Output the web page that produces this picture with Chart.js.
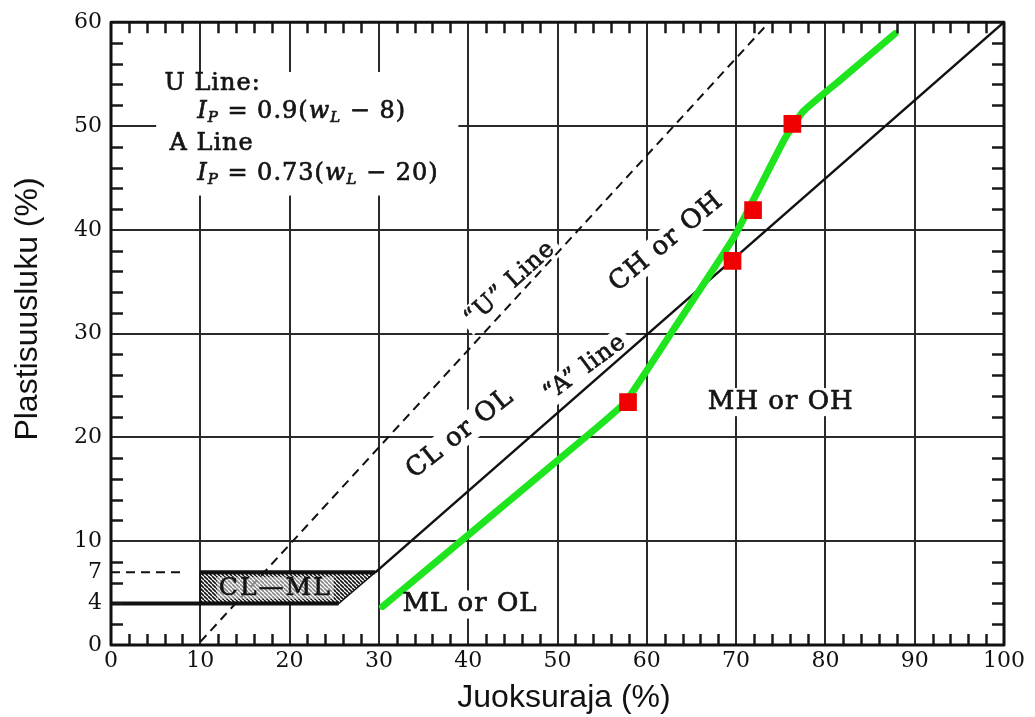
<!DOCTYPE html>
<html>
<head>
<meta charset="utf-8">
<title>Plastisuuskaavio</title>
<script src="https://cdn.jsdelivr.net/npm/chart.js@4.4.1/dist/chart.umd.min.js"></script>
<style>
  html, body { margin: 0; padding: 0; background: #ffffff; }
  #wrap { width: 1035px; height: 717px; }
</style>
</head>
<body>
<div id="wrap"><canvas id="c" width="1035" height="717"></canvas></div>
<script>
// Tested samples: liquid limit (%) and plasticity index (%)
const sampleLL = [57.9, 69.6, 71.9, 76.3];
const samplePI = [23.4, 37.0, 41.9, 50.2];

// Trend line drawn through the samples
const trendLL = [30.4, 53.1, 57.6, 63.0, 69.7, 75.4, 77.5, 81.9, 87.8];
const trendPI = [3.7, 20.0, 23.4, 30.4, 39.2, 48.7, 51.4, 54.6, 58.9];

// Casagrande chart boundaries
const uLineLL = [10, 73.7];
const uLinePI = [0.3, 60];
const aLineLL = [29.6, 100];
const aLinePI = [7, 60];
const clmlLL = [10, 10, 29.6, 25.5, 10];
const clmlPI = [4, 7, 7, 4, 4];
const lowLineLL = [0, 25.5];
const lowLinePI = [4, 4];
const highLineLL = [10, 29.6];
const highLinePI = [7, 7];
const dashLL = [0, 8.2];
const dashPI = [7, 7];

// Axis tick labels
const xTickLabels = [0, 10, 20, 30, 40, 50, 60, 70, 80, 90, 100];
const yTickLabels = [0, 4, 7, 10, 20, 30, 40, 50, 60];

// Zone names and the equation block
const zoneNames = ['“U” Line', '“A” line', 'CL or OL', 'CH or OH', 'MH or OH', 'ML or OL'];
const clmlName = 'CL—ML';
const eqLines = [
  [['U Line:', '']],
  [['I', 'i'], ['P', 'is'], [' = 0.9(', ''], ['w', 'i'], ['L', 'is'], [' − 8)', '']],
  [['A Line', '']],
  [['I', 'i'], ['P', 'is'], [' = 0.73(', ''], ['w', 'i'], ['L', 'is'], [' − 20)', '']]
];

// ---- placement of annotations (data units) ----
const zonePlace = [
  { x: 44.7, y: 34.8, rot: -42.4, size: 24 },
  { x: 53.1, y: 26.7, rot: -36.5, size: 24 },
  { x: 39.1, y: 20.35, rot: -38.3, size: 26 },
  { x: 62.2, y: 38.8, rot: -39.8, size: 26 },
  { x: 75.0, y: 23.4, rot: 0, size: 26 },
  { x: 40.2, y: 3.9, rot: 0, size: 26 }
];
const clmlPlace = { x: 18.4, y: 5.5, size: 25 };
const eqPlace = [
  { x: 6.0, y: 54.1 },
  { x: 9.65, y: 51.4 },
  { x: 6.55, y: 48.3 },
  { x: 9.65, y: 45.4 }
];
const eqBox = { x0: 5.06, x1: 38.9, y0: 43.3, y1: 55.2 };

const SERIF = '"DejaVu Serif", "Liberation Serif", serif';
const SANS = '"Liberation Sans", Arial, sans-serif';
const INK = '#151515';

const pts = (xs, ys) => xs.map((v, i) => ({ x: v, y: ys[i] }));

// Diagonal hatching for the CL-ML band
const hatchPattern = (() => {
  const c = document.createElement('canvas');
  c.width = 4; c.height = 4;
  const g = c.getContext('2d');
  g.fillStyle = '#ffffff';
  g.fillRect(0, 0, 4, 4);
  g.strokeStyle = '#111111';
  g.lineWidth = 1.6;
  g.beginPath();
  for (let k = -4; k <= 8; k += 4) { g.moveTo(k, 0); g.lineTo(k + 4, 4); }
  g.stroke();
  return g.createPattern(c, 'repeat');
})();

// filled text with a thin outline so it reads as heavy as printed type
function inkText(ctx, t, x, y) {
  ctx.fillText(t, x, y);
  ctx.strokeText(t, x, y);
}

function drawRich(ctx, x0, yMid, parts, size) {
  let xx = x0;
  parts.forEach(([t, style]) => {
    const sub = style.includes('s');
    const it = style.includes('i');
    const fs = sub ? Math.round(size * 0.62) : size;
    ctx.font = (it ? 'italic ' : '') + fs + 'px ' + SERIF;
    inkText(ctx, t, xx, yMid + (sub ? size * 0.28 : 0));
    xx += ctx.measureText(t).width;
  });
}

const chartDecor = {
  id: 'chartDecor',
  beforeDatasetsDraw(chart) {
    const { ctx, scales: { x, y } } = chart;
    ctx.save();
    ctx.fillStyle = '#ffffff';
    // white panel behind the equations
    const l = x.getPixelForValue(eqBox.x0), r = x.getPixelForValue(eqBox.x1);
    const t = y.getPixelForValue(eqBox.y1), b = y.getPixelForValue(eqBox.y0);
    ctx.fillRect(l, t, r - l, b - t);
    // white patches behind the zone names
    zoneNames.forEach((name, i) => {
      const p = zonePlace[i];
      ctx.font = p.size + 'px ' + SERIF;
      ctx.letterSpacing = '1px';
      const w = ctx.measureText(name).width;
      const h = p.size * 0.85;
      ctx.save();
      ctx.translate(x.getPixelForValue(p.x), y.getPixelForValue(p.y));
      ctx.rotate(p.rot * Math.PI / 180);
      ctx.fillRect(-w / 2 - 5, -h / 2 - 3, w + 10, h + 6);
      ctx.restore();
    });
    ctx.restore();
  },
  afterDatasetsDraw(chart) {
    const { ctx, chartArea: a, scales: { x, y } } = chart;
    ctx.save();
    ctx.fillStyle = INK;
    ctx.strokeStyle = INK;
    ctx.lineWidth = 0.7;
    ctx.lineJoin = 'round';
    ctx.textBaseline = 'middle';
    ctx.letterSpacing = '1px';

    // zone names
    ctx.textAlign = 'center';
    zoneNames.forEach((name, i) => {
      const p = zonePlace[i];
      ctx.font = p.size + 'px ' + SERIF;
      ctx.save();
      ctx.translate(x.getPixelForValue(p.x), y.getPixelForValue(p.y));
      ctx.rotate(p.rot * Math.PI / 180);
      inkText(ctx, name, 0, 0);
      ctx.restore();
    });

    // CL-ML label over the hatching
    ctx.font = clmlPlace.size + 'px ' + SERIF;
    ctx.letterSpacing = '2px';
    const cx = x.getPixelForValue(clmlPlace.x), cy = y.getPixelForValue(clmlPlace.y);
    const cw = ctx.measureText(clmlName).width;
    ctx.fillStyle = 'rgba(255,255,255,0.5)';
    ctx.fillRect(cx - cw / 2 - 2, cy - 11, cw + 4, 22);
    ctx.fillStyle = INK;
    inkText(ctx, clmlName, cx, cy + 1);

    // equations
    ctx.textAlign = 'left';
    ctx.letterSpacing = '1px';
    eqLines.forEach((parts, i) => {
      const p = eqPlace[i];
      drawRich(ctx, x.getPixelForValue(p.x), y.getPixelForValue(p.y), parts, 24);
    });

    // minor ticks on all four sides
    ctx.strokeStyle = '#1a1a1a';
    ctx.lineWidth = 2.5;
    ctx.beginPath();
    for (let v = 2; v < 100; v += 2) {
      if (v % 10 === 0) continue;
      const px = Math.round(x.getPixelForValue(v)) + 0.5;
      ctx.moveTo(px, a.bottom); ctx.lineTo(px, a.bottom - 11);
      ctx.moveTo(px, a.top); ctx.lineTo(px, a.top + 11);
    }
    for (let v = 2; v < 60; v += 2) {
      if (v % 10 === 0) continue;
      const py = Math.round(y.getPixelForValue(v)) + 0.5;
      ctx.moveTo(a.left, py); ctx.lineTo(a.left + 12, py);
      ctx.moveTo(a.right, py); ctx.lineTo(a.right - 12, py);
    }
    ctx.stroke();

    // frame
    ctx.lineWidth = 3;
    ctx.strokeStyle = '#111111';
    ctx.strokeRect(a.left, a.top, a.right - a.left, a.bottom - a.top);

    // axis titles
    ctx.letterSpacing = '0px';
    ctx.fillStyle = '#111111';
    ctx.font = '32px ' + SANS;
    ctx.textAlign = 'center';
    ctx.textBaseline = 'alphabetic';
    ctx.fillText('Juoksuraja (%)', 564, 707);
    ctx.save();
    ctx.translate(37, 309);
    ctx.rotate(-Math.PI / 2);
    ctx.fillText('Plastisuusluku (%)', 0, 0);
    ctx.restore();
    ctx.restore();
  }
};

const lineSet = (label, xs, ys, extra) => Object.assign({
  label, data: pts(xs, ys), showLine: true, pointRadius: 0,
  borderColor: '#111111', borderWidth: 2.5, fill: false
}, extra);

new Chart(document.getElementById('c'), {
  type: 'scatter',
  data: {
    datasets: [
      { label: 'Näytteet', data: pts(sampleLL, samplePI), pointStyle: 'rect',
        pointRadius: 12.5, backgroundColor: '#f00000', borderWidth: 0, order: 0 },
      lineSet('Trendi', trendLL, trendPI, { borderColor: '#1fe51f', borderWidth: 7,
        tension: 0.12, borderCapStyle: 'round', borderJoinStyle: 'round', order: 1 }),
      lineSet('A-viiva', aLineLL, aLinePI, { borderWidth: 2.5, order: 2 }),
      lineSet('IP = 4', lowLineLL, lowLinePI, { borderWidth: 4, order: 2 }),
      lineSet('IP = 7', highLineLL, highLinePI, { borderWidth: 4, order: 2 }),
      lineSet('U-viiva', uLineLL, uLinePI, { borderWidth: 2, borderDash: [9, 6], order: 3 }),
      lineSet('IP = 7 katkoviiva', dashLL, dashPI, { borderWidth: 2, borderDash: [9, 6], order: 3 }),
      lineSet('CL-ML', clmlLL, clmlPI, { borderWidth: 1.5, fill: 'shape',
        backgroundColor: hatchPattern, order: 5 })
    ]
  },
  options: {
    responsive: false,
    animation: false,
    devicePixelRatio: 1,
    events: [],
    layout: { padding: { left: 0, right: 31, top: 14, bottom: 0 } },
    plugins: { legend: { display: false }, tooltip: { enabled: false } },
    scales: {
      x: {
        type: 'linear', min: 0, max: 100,
        afterBuildTicks: s => { s.ticks = xTickLabels.map(v => ({ value: v })); },
        afterFit: s => { s.height = 72; },
        ticks: { font: { family: SERIF, size: 22 }, color: '#111111', padding: 3,
                 maxRotation: 0, autoSkip: false, callback: v => String(v) },
        grid: { color: c => (c.tick && (c.tick.value === 0 || c.tick.value === 100)) ? 'rgba(0,0,0,0)' : '#2a2a2a',
                lineWidth: 2, drawTicks: false },
        border: { display: false }
      },
      y: {
        type: 'linear', min: 0, max: 60,
        afterBuildTicks: s => { s.ticks = yTickLabels.map(v => ({ value: v })); },
        afterFit: s => { s.width = 111; },
        ticks: { font: { family: SERIF, size: 22 }, color: '#111111', padding: 9,
                 autoSkip: false, callback: v => String(v) },
        grid: { color: c => (c.tick && [0, 4, 7, 60].includes(c.tick.value)) ? 'rgba(0,0,0,0)' : '#2a2a2a',
                lineWidth: 2, drawTicks: false },
        border: { display: false }
      }
    }
  },
  plugins: [chartDecor]
});
</script>
</body>
</html>
